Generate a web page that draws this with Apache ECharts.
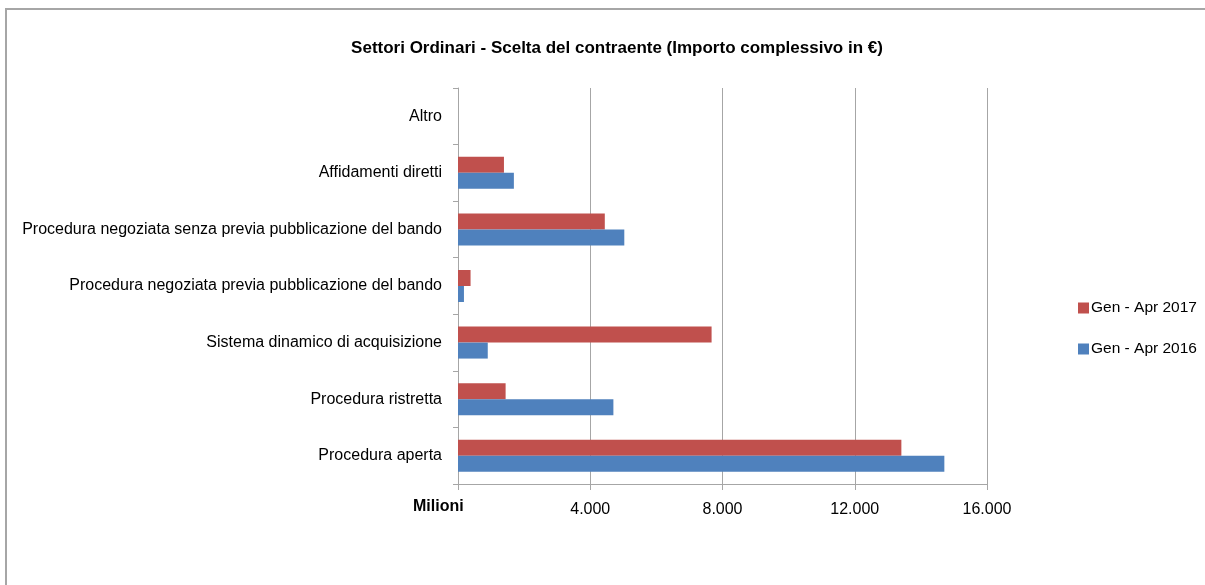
<!DOCTYPE html>
<html>
<head>
<meta charset="utf-8">
<script src="https://cdn.jsdelivr.net/npm/echarts@6/dist/echarts.min.js"></script>
<style>
  html, body { margin: 0; padding: 0; background: #fff; }
  #main { width: 1205px; height: 585px; }
</style>
</head>
<body>
<div id="main"></div>
<script>
// categories bottom -> top
const categories = [
  'Procedura aperta',
  'Procedura ristretta',
  'Sistema dinamico di acquisizione',
  'Procedura negoziata previa pubblicazione del bando',
  'Procedura negoziata senza previa pubblicazione del bando',
  'Affidamenti diretti',
  'Altro'
];
// importo in milioni di euro
const gen2017 = [13410, 1440, 7670, 380, 4440, 1390, 0];
const gen2016 = [14710, 4700, 900, 180, 5030, 1690, 0];
const seriesNames = ['Gen - Apr 2017', 'Gen - Apr 2016'];

const font = '"Liberation Sans", Arial, sans-serif';

const chart = echarts.init(document.getElementById('main'));

function fmt(v) {
  return String(v).replace(/\B(?=(\d{3})+(?!\d))/g, '.');
}

const option = {
  animation: false,
  title: {
    text: 'Settori Ordinari - Scelta del contraente (Importo complessivo in €)',
    left: 612,
    textAlign: 'center',
    top: 35,
    textStyle: {fontFamily: font, fontSize: 17, fontWeight: 'bold', color: '#000'}
  },
  graphic: [
    {
      type: 'rect',
      shape: {x: 6, y: 9, width: 1220, height: 600},
      style: {fill: 'none', stroke: '#a6a6a6', lineWidth: 2},
      silent: true
    },
    {
      type: 'text',
      left: 413,
      top: 499,
      style: {text: 'Milioni', fontFamily: font, fontSize: 16, fontWeight: 'bold', fill: '#000'}
    }
  ],
  legend: {
    data: seriesNames,
    orient: 'vertical',
    left: 1073,
    top: 295,
    itemGap: 25,
    itemWidth: 11,
    itemHeight: 11,
    icon: 'rect',
    textStyle: {fontFamily: font, fontSize: 15.5, color: '#000', padding: [0, 0, 0, -3]}
  },
  grid: {left: 458, right: 218, top: 88, bottom: 101, containLabel: false, outerBoundsMode: 'none'},
  xAxis: {
    type: 'value',
    min: 0,
    max: 16000,
    interval: 4000,
    axisLine: {show: true, lineStyle: {color: '#a6a6a6', width: 1}},
    axisTick: {show: true, length: 6, lineStyle: {color: '#a6a6a6'}},
    splitLine: {show: true, lineStyle: {color: '#a6a6a6', width: 1}},
    axisLabel: {
      fontFamily: font, fontSize: 16, color: '#000', margin: 18,
      formatter: v => v === 0 ? '' : fmt(v)
    }
  },
  yAxis: {
    type: 'category',
    data: categories,
    axisLine: {show: true, lineStyle: {color: '#a6a6a6', width: 1}},
    axisTick: {show: true, length: 5, inside: false, lineStyle: {color: '#a6a6a6'}},
    axisLabel: {fontFamily: font, fontSize: 16, color: '#000', margin: 16}
  },
  series: [
    {
      name: seriesNames[0],
      type: 'bar',
      data: gen2017,
      barWidth: 16,
      barGap: '0%',
      itemStyle: {color: '#c0504d'}
    },
    {
      name: seriesNames[1],
      type: 'bar',
      data: gen2016,
      barWidth: 16,
      barGap: '0%',
      itemStyle: {color: '#4f81bd'}
    }
  ]
};

chart.setOption(option);
</script>
</body>
</html>
